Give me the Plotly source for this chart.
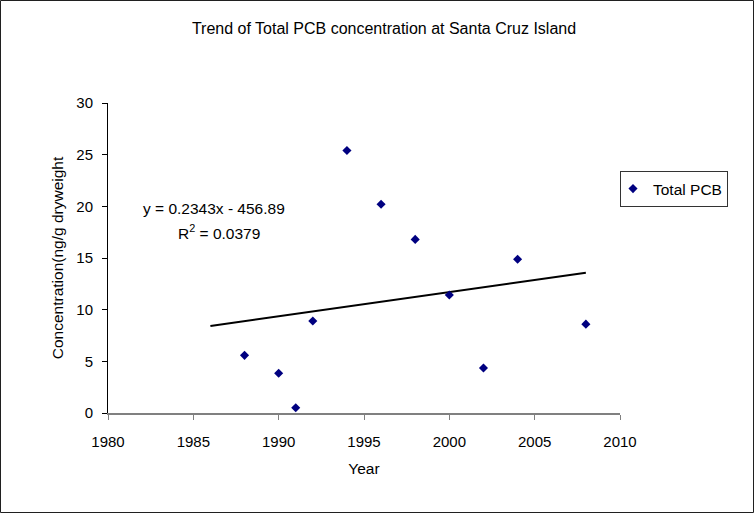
import plotly.graph_objects as go

# sampling years and total PCB concentration (ng/g dry weight)
years = [1988, 1990, 1991, 1992, 1994, 1996, 1998, 2000, 2002, 2004, 2008]
total_pcb = [5.58, 3.84, 0.51, 8.9, 25.4, 20.2, 16.8, 11.42, 4.36, 14.88, 8.6]

# linear trend line, as shown on the chart
trend_years = [1986, 2008]
trend_values = [8.43, 13.58]

x_ticks = [1980, 1985, 1990, 1995, 2000, 2005, 2010]
y_ticks = [0, 5, 10, 15, 20, 25, 30]

W, H = 755, 514
ml, mr, mt, mb = 108, 135, 103, 101
font = "Liberation Sans, Arial, sans-serif"

fig = go.Figure()

fig.add_trace(go.Scatter(
    x=trend_years, y=trend_values, mode="lines",
    line=dict(color="black", width=2),
    showlegend=False, hoverinfo="skip",
))

fig.add_trace(go.Scatter(
    x=years, y=total_pcb, mode="markers", name="Total PCB",
    marker=dict(symbol="diamond", size=7, color="#000080"),
))

fig.add_annotation(x=1986.2, y=19.75, text="y = 0.2343x - 456.89",
                   showarrow=False, font=dict(size=15.5, color="black"))
fig.add_annotation(x=1986.5, y=17.5, text="R<sup>2</sup> = 0.0379",
                   showarrow=False, font=dict(size=15.5, color="black"))

# outer chart border
pw, ph = W - ml - mr, H - mt - mb
fig.add_shape(type="rect", xref="paper", yref="paper",
              x0=(0.5 - ml) / pw, x1=(W - 1.5 - ml) / pw,
              y0=-(mb - 1.5) / ph, y1=1 + (mt - 0.5) / ph,
              line=dict(color="#202020", width=1))

fig.update_layout(
    width=W, height=H,
    margin=dict(l=ml, r=mr, t=mt, b=mb),
    paper_bgcolor="white", plot_bgcolor="white",
    font=dict(family=font, size=15, color="black"),
    title=dict(text="Trend of Total PCB concentration at Santa Cruz Island",
               x=384 / W, xanchor="center", y=1 - 28 / H, yanchor="middle",
               font=dict(size=16)),
    legend=dict(x=1.0, xanchor="left", y=(H - mb - 171) / ph, yanchor="top",
                bordercolor="#333333", borderwidth=1, bgcolor="white",
                font=dict(size=15.5), itemwidth=30, indentation=-8,
                tracegroupgap=0),
    showlegend=True,
)

fig.update_xaxes(
    range=[1980, 2010], tickvals=x_ticks, showgrid=False, zeroline=False,
    showline=True, linecolor="#808080", linewidth=2,
    ticks="outside", ticklen=5, tickcolor="#808080",
    ticklabelstandoff=9,
    title=dict(text="Year", standoff=14, font=dict(size=15.5)),
)
fig.update_yaxes(
    range=[0, 30], tickvals=y_ticks, showgrid=False, zeroline=False,
    showline=True, linecolor="black", linewidth=1,
    ticks="outside", ticklen=5, tickcolor="black",
    ticklabelstandoff=6,
    title=dict(text="Concentration(ng/g dryweight", standoff=8, font=dict(size=15.5)),
)

# drop the page's default body margin so the chart sits at the window corner
fig.write_html("out.html", config={"displayModeBar": False},
               post_script="document.body.style.margin='0';")
